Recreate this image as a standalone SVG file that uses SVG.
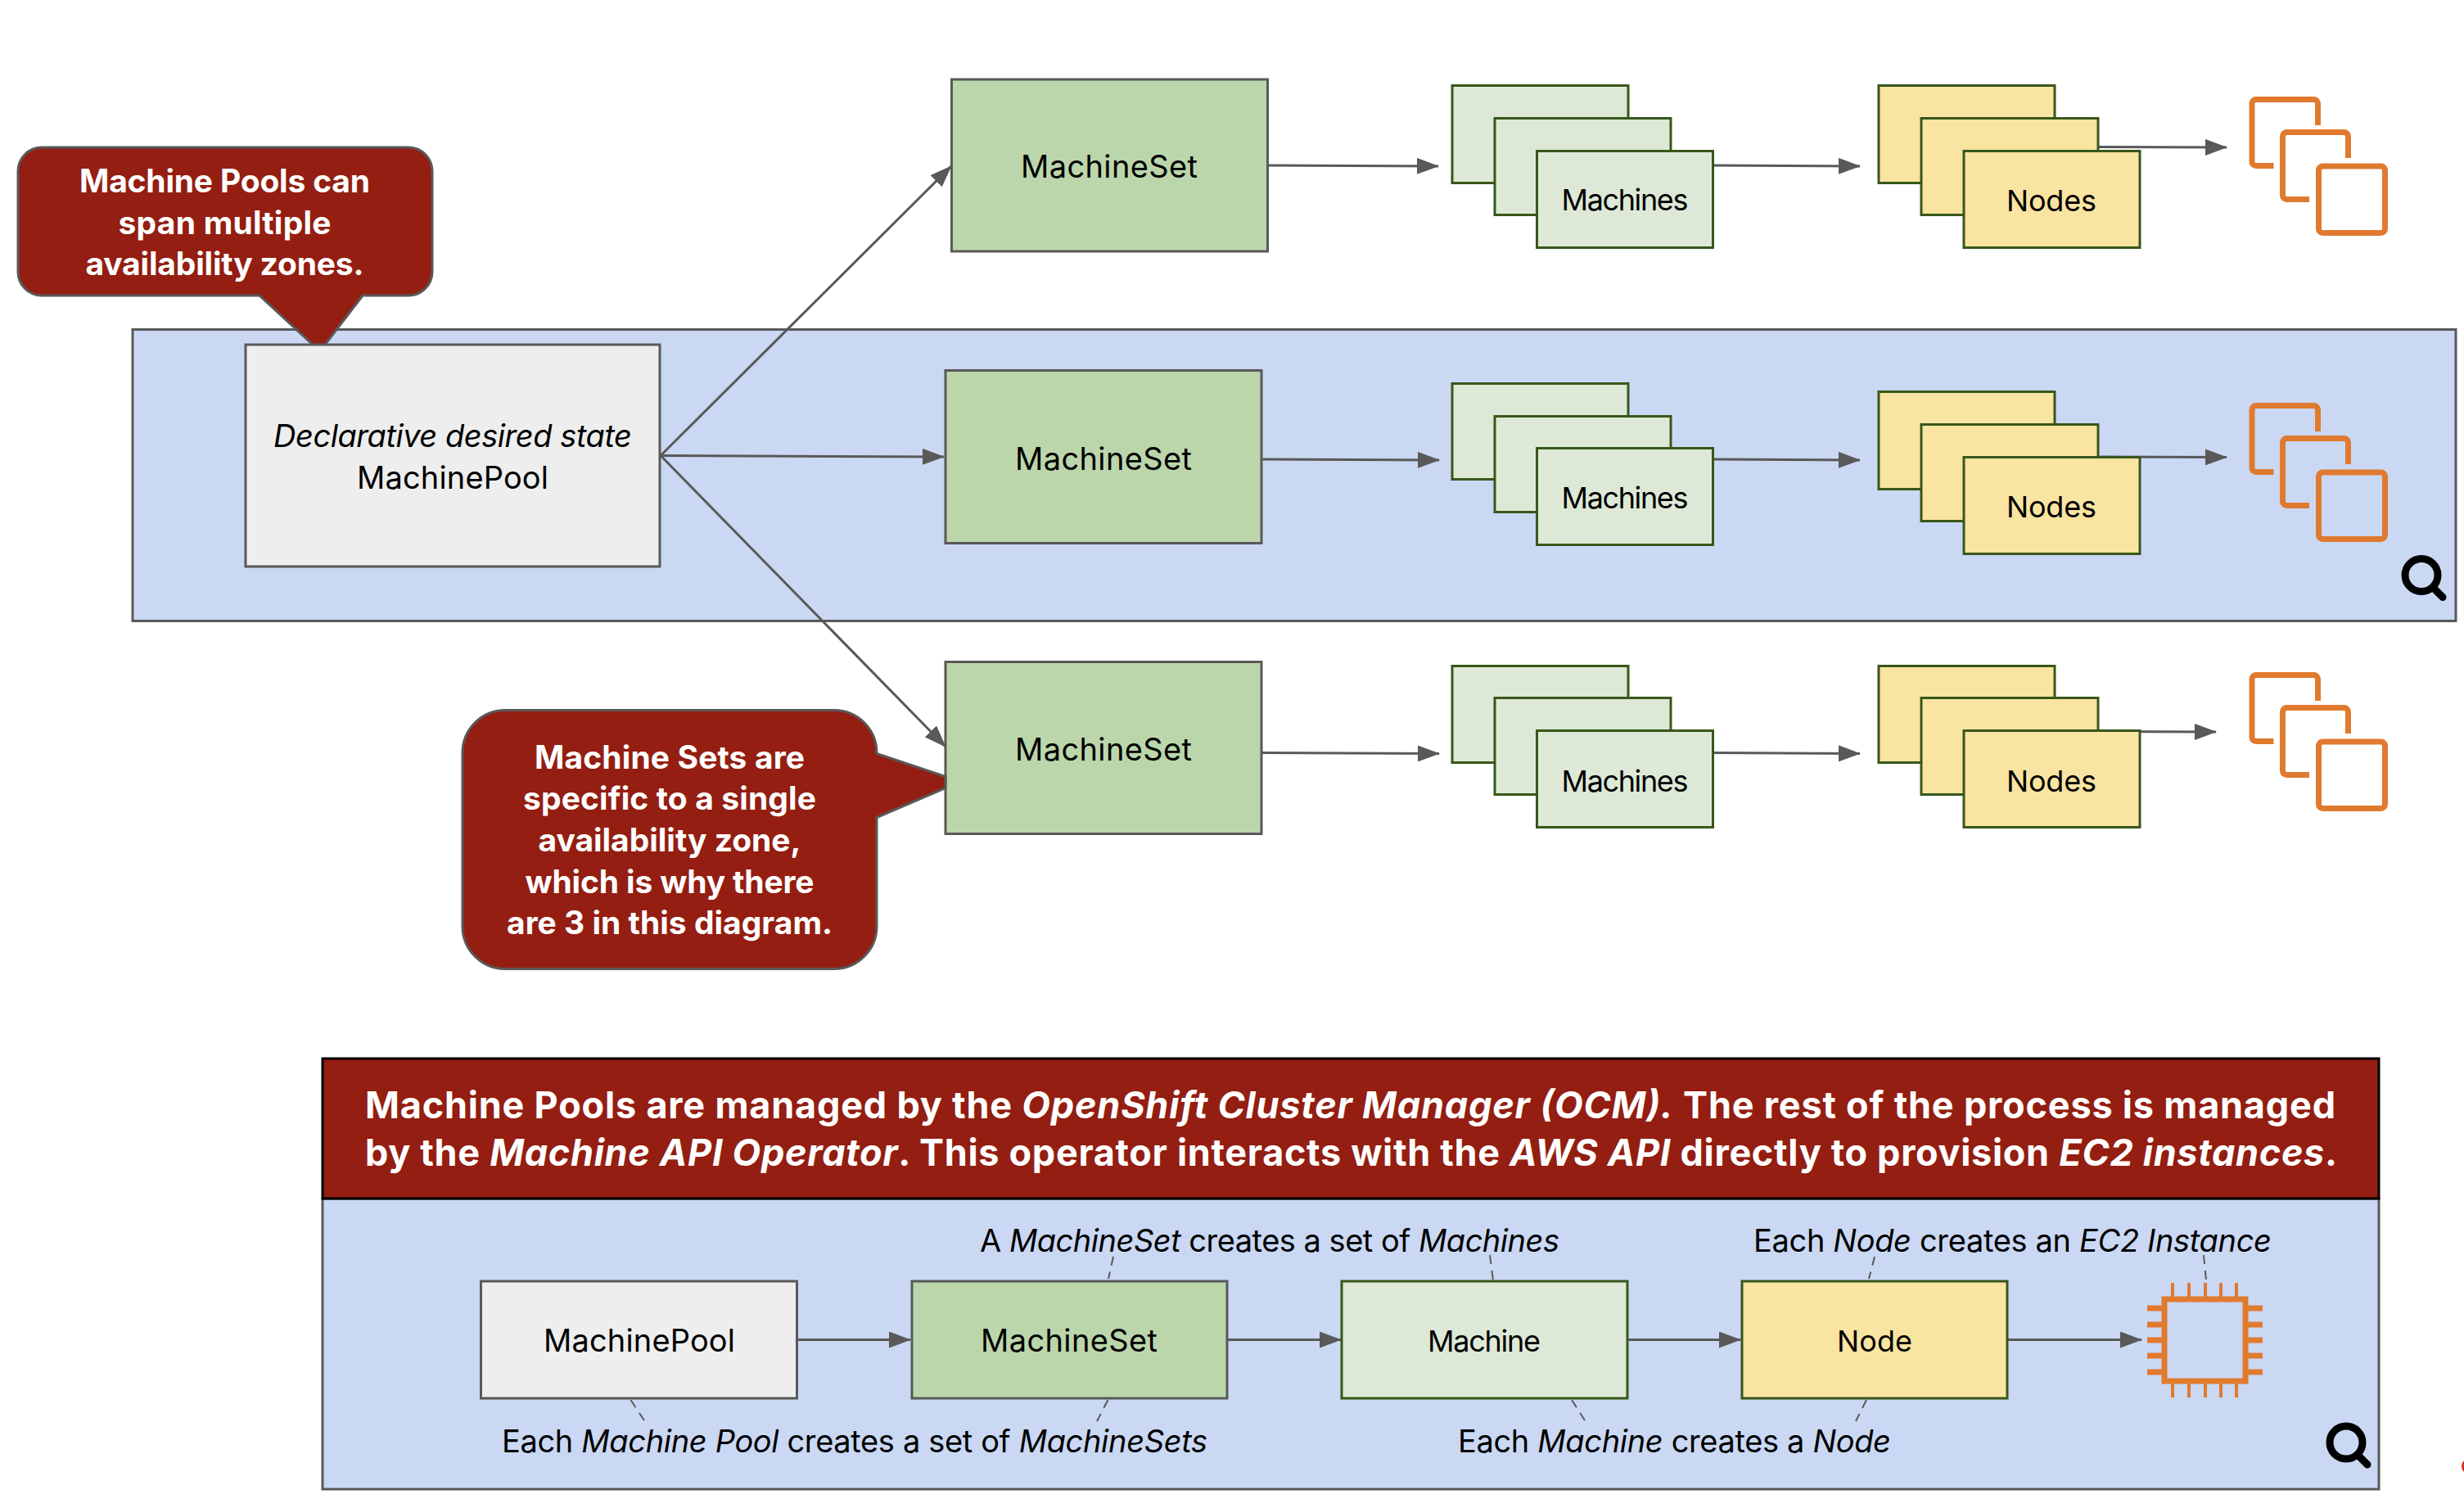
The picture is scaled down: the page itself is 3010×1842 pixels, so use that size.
<svg xmlns="http://www.w3.org/2000/svg" xmlns:xlink="http://www.w3.org/1999/xlink" width="3010" height="1842" viewBox="0 0 3010 1842">
<style>
text{font-family:"Inter","Liberation Sans",sans-serif;fill:#000;font-size:38px;text-anchor:middle}
.b{font-weight:700;fill:#fff;font-size:39px}
.h{font-weight:700;fill:#fff;font-size:45px;text-anchor:start}
.l{text-anchor:start}
.i{font-style:italic}
.s{font-size:36px}
.panel{fill:#cad8f3;stroke:#595959;stroke-width:3}
.gray{fill:#eee;stroke:#595959;stroke-width:3}
.ms{fill:#bcd6ab;stroke:#595959;stroke-width:3}
.mc{fill:#dde9d6;stroke:#38571a;stroke-width:3}
.nd{fill:#fae4a1;stroke:#38571a;stroke-width:3}
.red{fill:#931e11;stroke:#595959;stroke-width:3}
.c{fill:none;stroke:#595959;stroke-width:3;marker-end:url(#ah)}
.d{fill:none;stroke:#595959;stroke-width:2;stroke-dasharray:11 8}
.o{fill:none;stroke:#e07a2e;stroke-width:7}
.p{fill:none;stroke:#e07a2e;stroke-width:4}
.q{fill:none;stroke:#000;stroke-width:9;stroke-linecap:round}
</style>
<defs>
<marker id="ah" markerUnits="userSpaceOnUse" markerWidth="27" markerHeight="20" refX="26" refY="10" orient="auto"><path d="M0 0L27 10L0 20Z" fill="#595959"/></marker>
<g id="inst">
<path class="o" d="M2831.5 153V126.5a5 5 0 0 0-5-5H2756a5 5 0 0 0-5 5V197.500a5 5 0 0 0 5 5H2777.500"/>
<path class="o" d="M2868.500 193V166.500a5 5 0 0 0-5-5H2793.500a5 5 0 0 0-5 5V238.500a5 5 0 0 0 5 5H2821"/>
<rect class="o" x="2832.500" y="203" width="81" height="81.500" rx="5"/>
</g>
<g id="mag"><circle class="q" cx="0" cy="0" r="20"/><path class="q" d="M15 16L26 27"/></g>
</defs>
<rect width="3010" height="1842" fill="#fff"/>
<rect id="zone-panel" class="panel" x="162" y="402.500" width="2838" height="356"/>
<rect id="lower-panel" class="panel" x="394" y="1464" width="2512" height="355"/>
<g id="callout-pools">
<path class="red" d="M51 180H499a29 29 0 0 1 29 29V332a29 29 0 0 1-29 29H443L397 421H382L317 361H51a29 29 0 0 1-29-29V209a29 29 0 0 1 29-29Z"/>
<text class="b" x="274.500" y="235" textLength="355">Machine Pools can</text>
<text class="b" x="274.500" y="286" textLength="260">span multiple</text>
<text class="b" x="274.500" y="336" textLength="340">availability zones.</text>
</g>
<g id="connectors">
<path class="c" d="M807 556.500L1162 203"/>
<path class="c" d="M807 556.500L1153 558"/>
<path class="c" d="M807 556.500L1155 912"/>
<path class="c" d="M1548 202L1757 203"/>
<path class="c" d="M2093 202L2272 203"/>
<path class="c" d="M2563 179.500L2720 180"/>
<path class="c" d="M1541 561L1758 562"/>
<path class="c" d="M2093 561L2272 562"/>
<path class="c" d="M2563 558L2720 558.500"/>
<path class="c" d="M1541 919.500L1758 920.500"/>
<path class="c" d="M2092 919.500L2272 920.500"/>
<path class="c" d="M2563 893.500L2707 894"/>
<path class="c" d="M974 1636.500H1112"/>
<path class="c" d="M1499 1636.500H1638"/>
<path class="c" d="M1988 1636.500H2126"/>
<path class="c" d="M2452 1636.500H2616"/>
<path class="d" d="M1360 1535L1354 1562"/>
<path class="d" d="M770.500 1710L787 1735"/>
<path class="d" d="M1353.500 1710L1340 1736"/>
<path class="d" d="M1820 1533L1824 1564"/>
<path class="d" d="M2290 1535L2283 1562"/>
<path class="d" d="M2692 1533L2695 1564"/>
<path class="d" d="M1920 1710L1936 1735"/>
<path class="d" d="M2280 1710L2267 1736"/>
</g>
<g id="machine-pool">
<rect class="gray" x="300" y="421" width="506" height="271"/>
<text x="553" y="546" textLength="438" class="i">Declarative desired state</text>
<text x="553" y="597" textLength="234">MachinePool</text>
</g>
<g id="machineset-1"><rect class="ms" x="1162.500" y="97" width="386" height="210"/><text x="1355" y="217" textLength="216">MachineSet</text></g>
<g id="machineset-2"><rect class="ms" x="1155" y="452.500" width="386" height="211"/><text x="1348" y="574" textLength="216">MachineSet</text></g>
<g id="machineset-3"><rect class="ms" x="1155" y="808.500" width="386" height="210"/><text x="1348" y="929" textLength="216">MachineSet</text></g>
<g id="machines-1"><rect class="mc" x="1774" y="104.500" width="215" height="119"/><rect class="mc" x="1826" y="144.500" width="215" height="118"/><rect class="mc" x="1877.500" y="184.500" width="215" height="118"/><text class="s" x="1985" y="257" textLength="155">Machines</text></g>
<g id="machines-2"><rect class="mc" x="1774" y="468.500" width="215" height="117"/><rect class="mc" x="1826" y="508.500" width="215" height="117"/><rect class="mc" x="1877.500" y="547.500" width="215" height="118"/><text class="s" x="1985" y="621" textLength="155">Machines</text></g>
<g id="machines-3"><rect class="mc" x="1774" y="813.500" width="215" height="118"/><rect class="mc" x="1826" y="852.500" width="215" height="118"/><rect class="mc" x="1877.500" y="892.500" width="215" height="118"/><text class="s" x="1985" y="967" textLength="155">Machines</text></g>
<g id="nodes-1"><rect class="nd" x="2295" y="104.500" width="215" height="119"/><rect class="nd" x="2347" y="144.500" width="216" height="118"/><rect class="nd" x="2399" y="184.500" width="215" height="118"/><text class="s" x="2506" y="258" textLength="110">Nodes</text></g>
<g id="nodes-2"><rect class="nd" x="2295" y="478.500" width="215" height="119"/><rect class="nd" x="2347" y="518.500" width="216" height="118"/><rect class="nd" x="2399" y="558.500" width="215" height="118"/><text class="s" x="2506" y="632" textLength="110">Nodes</text></g>
<g id="nodes-3"><rect class="nd" x="2295" y="813.500" width="215" height="118"/><rect class="nd" x="2347" y="852.500" width="216" height="118"/><rect class="nd" x="2399" y="892.500" width="215" height="118"/><text class="s" x="2506" y="967" textLength="110">Nodes</text></g>
<g id="instances-1"><use href="#inst"/></g>
<g id="instances-2"><use href="#inst" transform="translate(0 374)"/></g>
<g id="instances-3"><use href="#inst" transform="translate(0 703)"/></g>
<use id="magnifier-1" href="#mag" transform="translate(2958 702.500)"/>
<g id="callout-sets">
<path class="red" d="M617 867.500H1019a52 52 0 0 1 52 52V920.500L1155 948.500V962.500L1071 998.500V1131.500a52 52 0 0 1-52 52H617a52 52 0 0 1-52-52V919.500a52 52 0 0 1 52-52Z"/>
<text class="b" x="818" y="939" textLength="330">Machine Sets are</text>
<text class="b" x="818" y="989" textLength="358">specific to a single</text>
<text class="b" x="818" y="1040" textLength="321">availability zone,</text>
<text class="b" x="818" y="1091" textLength="353">which is why there</text>
<text class="b" x="818" y="1141" textLength="398">are 3 in this diagram.</text>
</g>
<g id="banner">
<rect x="394" y="1293" width="2512" height="171" fill="#931e11" stroke="#000" stroke-width="3"/>
<text class="h" x="446" y="1366" textLength="2407">Machine Pools are managed by the <tspan class="i">OpenShift Cluster Manager (OCM).</tspan> The rest of the process is managed</text>
<text class="h" x="446" y="1424" textLength="2409">by the <tspan class="i">Machine API Operator</tspan>. This operator interacts with the <tspan class="i">AWS API</tspan> directly to provision <tspan class="i">EC2 instances</tspan>.</text>
</g>
<g id="lower-machinepool"><rect class="gray" x="587.500" y="1565" width="386" height="143"/><text x="781" y="1651" textLength="234">MachinePool</text></g>
<g id="lower-machineset"><rect class="ms" x="1114" y="1565" width="385" height="143"/><text x="1306" y="1651" textLength="216">MachineSet</text></g>
<g id="lower-machine"><rect class="mc" x="1639" y="1565" width="349" height="143"/><text class="s" x="1813" y="1651" textLength="138">Machine</text></g>
<g id="lower-node"><rect class="nd" x="2128" y="1565" width="324" height="143"/><text class="s" x="2290" y="1651" textLength="92">Node</text></g>
<g id="lower-ec2">
<rect class="o" x="2644" y="1587" width="99" height="100"/>
<path class="p" d="M2654 1567V1584M2674 1567V1584M2694 1567V1584M2713 1567V1584M2732 1567V1584M2654 1690V1707M2674 1690V1707M2694 1690V1707M2713 1690V1707M2732 1690V1707"/>
<path class="o" d="M2623 1598H2641M2623 1618H2641M2623 1637H2641M2623 1656H2641M2623 1676H2641M2746 1598H2764M2746 1618H2764M2746 1637H2764M2746 1656H2764M2746 1676H2764"/>
</g>
<text class="l" x="1197" y="1529" textLength="708">A <tspan class="i">MachineSet</tspan> creates a set of <tspan class="i">Machines</tspan></text>
<text class="l" x="2142" y="1529" textLength="633">Each <tspan class="i">Node</tspan> creates an <tspan class="i">EC2 Instance</tspan></text>
<text class="l" x="613" y="1774" textLength="862">Each <tspan class="i">Machine Pool</tspan> creates a set of <tspan class="i">MachineSets</tspan></text>
<text class="l" x="1781" y="1774" textLength="529">Each <tspan class="i">Machine</tspan> creates a <tspan class="i">Node</tspan></text>
<use id="magnifier-2" href="#mag" transform="translate(2866 1762)"/>
<circle id="edge-mark" cx="3017" cy="1791" r="10" fill="#d9281e"/>
</svg>
